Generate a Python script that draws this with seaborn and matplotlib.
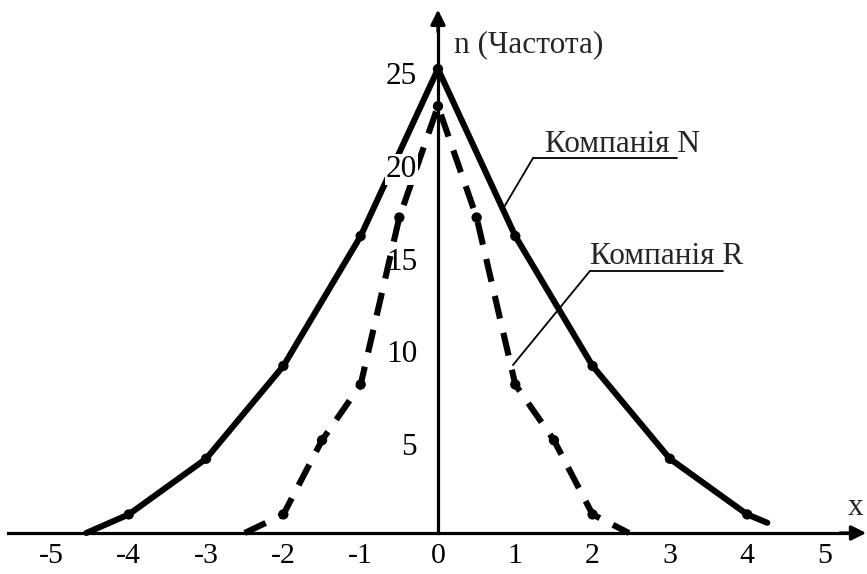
import matplotlib
matplotlib.use("Agg")
import matplotlib.pyplot as plt
import matplotlib.transforms as mtransforms
import seaborn as sns
import pandas as pd

# ---- data ----
x_int = [-4, -3, -2, -1, 0, 1, 2, 3, 4]
n_freq = [1, 4, 9, 16, 25, 16, 9, 4, 1]
n_tail_x = [-4.55, 4.26]
n_tail_y = [0, 0.55]

r_x = [-2, -1.5, -1, -0.5, 0, 0.5, 1, 1.5, 2]
r_freq = [1, 5, 8, 17, 23, 17, 8, 5, 1]
r_tail_x = [-2.5, 2.47]
r_tail_y = [0, 0]

x_ticks = [-5, -4, -3, -2, -1, 0, 1, 2, 3, 4, 5]
y_ticks = [5, 10, 15, 20, 25]
y_label = "n (Частота)"
x_label = "x"
label_n = "Компанія N"
label_r = "Компанія R"

sns.set_theme(style="white")
plt.rcParams["font.family"] = ["Liberation Serif", "DejaVu Serif"]
plt.rcParams["axes.unicode_minus"] = False

FS = 22.5

df_n = pd.DataFrame({"x": [n_tail_x[0]] + x_int + [n_tail_x[1]],
                     "y": [n_tail_y[0]] + n_freq + [n_tail_y[1]]})
df_r = pd.DataFrame({"x": [r_tail_x[0]] + r_x + [r_tail_x[1]],
                     "y": [r_tail_y[0]] + r_freq + [r_tail_y[1]]})
df_npts = pd.DataFrame({"x": x_int, "y": n_freq})
df_rpts = pd.DataFrame({"x": r_x, "y": r_freq})

fig = plt.figure(figsize=(8.67, 5.74), dpi=100)
ax = fig.add_axes([0, 0, 1, 1])
ax.set_xlim(-5.666, 5.55)
ax.set_ylim(-2.21, 28.72)

lw = 4.4
sns.lineplot(data=df_n, x="x", y="y", sort=False, estimator=None, ax=ax,
             color="black", linewidth=lw, zorder=3)
sns.lineplot(data=df_r, x="x", y="y", sort=False, estimator=None, ax=ax,
             color="black", linewidth=lw, zorder=3,
             linestyle=(0, (3.8, 2.4)))
sns.scatterplot(data=df_npts, x="x", y="y", ax=ax, color="black", s=55,
                edgecolor="none", zorder=4)
sns.scatterplot(data=df_rpts, x="x", y="y", ax=ax, color="black", s=55,
                edgecolor="none", zorder=4)

# axes through origin
for s in ["top", "right"]:
    ax.spines[s].set_visible(False)
ax.spines["left"].set_position(("data", 0))
ax.spines["bottom"].set_position(("data", 0))
ax.spines["left"].set_bounds(0, 27.6)
ax.spines["bottom"].set_bounds(-5.56, 5.35)
for s in ["left", "bottom"]:
    ax.spines[s].set_linewidth(2.3)
    ax.spines[s].set_color("black")
    ax.spines[s].set_zorder(2)

ax.annotate("", xy=(0, 28.2), xytext=(0, 27.0), annotation_clip=False,
            arrowprops=dict(arrowstyle="-|>", color="black", lw=2.3,
                            mutation_scale=22, shrinkA=0, shrinkB=0))
ax.annotate("", xy=(5.54, 0), xytext=(5.2, 0), annotation_clip=False,
            arrowprops=dict(arrowstyle="-|>", color="black", lw=2.3,
                            mutation_scale=22, shrinkA=0, shrinkB=0))

ax.set_xticks(x_ticks)
ax.set_xticklabels([str(v) for v in x_ticks])
ax.set_yticks(y_ticks)
ax.set_yticklabels([str(v) for v in y_ticks])
ax.tick_params(axis="both", direction="inout", length=14, width=1.6,
               color="black", labelsize=FS, labelcolor="black")
ax.tick_params(axis="x", pad=0.5, labelsize=21.5)
ax.tick_params(axis="y", pad=8)
ax.set_xlabel("")
ax.set_ylabel("")
ax.set_axisbelow(False)
ax.yaxis.set_zorder(5)

off = mtransforms.ScaledTranslation(0, -4 / 100, fig.dpi_scale_trans)
for lab in ax.get_yticklabels():
    lab.set_transform(lab.get_transform() + off)
    if lab.get_text() == "20":
        lab.set_bbox(dict(facecolor="white", edgecolor="none", pad=1))

# axis names
ax.text(0.207, 25.9, y_label, fontsize=FS, ha="left", va="baseline")
ax.text(5.30, 0.97, x_label, fontsize=FS, ha="left", va="baseline")

# callouts
ax.text(1.38, 20.55, label_n, fontsize=FS, ha="left", va="baseline")
ax.plot([1.229, 3.09], [20.2, 20.2], color="black", lw=1.3)
ax.plot([1.229, 0.84], [20.2, 17.46], color="black", lw=1.3)

ax.text(1.966, 14.5, label_r, fontsize=FS, ha="left", va="baseline")
ax.plot([1.966, 3.69], [14.12, 14.12], color="black", lw=1.3)
ax.plot([1.966, 0.97], [14.12, 9.05], color="black", lw=1.3)

fig.savefig("out.png", dpi=100)
